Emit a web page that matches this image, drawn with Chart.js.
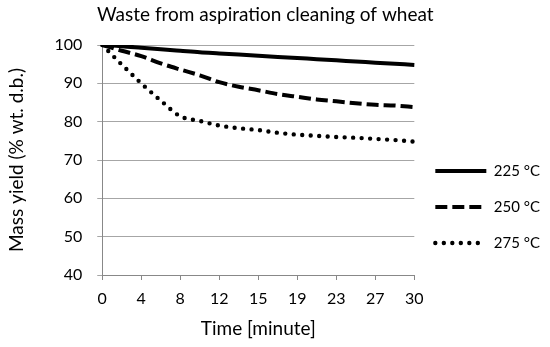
<!DOCTYPE html>
<html>
<head>
<meta charset="utf-8">
<script src="https://cdn.jsdelivr.net/npm/chart.js@4"></script>
<style>
  html, body { margin: 0; padding: 0; background: #fff; }
  #wrap { width: 550px; height: 347px; }
</style>
</head>
<body>
<div id="wrap"><canvas id="c" width="550" height="347"></canvas></div>
<script>
const timeLabels = ['0','2','4','6','8','10','12','13','15','17','19','21','23','25','27','28','30'];
const yield225 = [100, 99.7, 99.3, 98.9, 98.5, 98.1, 97.8, 97.5, 97.2, 96.9, 96.6, 96.3, 96.0, 95.7, 95.4, 95.1, 94.8];
const yield250 = [100, 98.5, 97.1, 95.2, 93.6, 92.1, 90.3, 89.1, 88.2, 87.2, 86.5, 85.8, 85.3, 84.8, 84.4, 84.2, 83.8];
const yield275 = [100, 94.9, 90.0, 85.5, 81.4, 80.2, 79.0, 78.3, 77.8, 77.1, 76.6, 76.3, 76.0, 75.8, 75.5, 75.2, 74.8];
const seriesNames = ['225 °C', '250 °C', '275 °C'];
const yTicks = [40, 50, 60, 70, 80, 90, 100];

const FONT = 'Lato, "Open Sans", sans-serif';

const bgPlugin = {
  id: 'bg',
  beforeDraw(chart) {
    const ctx = chart.ctx;
    ctx.save();
    ctx.fillStyle = '#fff';
    ctx.fillRect(0, 0, chart.width, chart.height);
    ctx.restore();
  }
};

new Chart(document.getElementById('c'), {
  type: 'line',
  data: {
    labels: timeLabels,
    datasets: [
      { label: seriesNames[0], data: yield225, borderColor: '#000', backgroundColor: '#000',
        borderWidth: 4, pointRadius: 0, cubicInterpolationMode: 'monotone', borderCapStyle: 'butt', borderDash: [] },
      { label: seriesNames[1], data: yield250, borderColor: '#000', backgroundColor: '#000',
        borderWidth: 4, pointRadius: 0, cubicInterpolationMode: 'monotone', borderDash: [12, 5], borderCapStyle: 'butt' },
      { label: seriesNames[2], data: yield275, borderColor: '#000', backgroundColor: '#000',
        borderWidth: 4.4, pointRadius: 0, cubicInterpolationMode: 'monotone', borderDash: [0, 8.5], borderCapStyle: 'round' }
    ]
  },
  options: {
    responsive: false,
    animation: false,
    devicePixelRatio: 1,
    layout: { padding: { left: 0, right: 0, top: 0, bottom: 0 } },
    plugins: {
      title: {
        display: true,
        text: 'Waste from aspiration cleaning of wheat\u00A0\u00A0\u00A0\u00A0',
        color: '#000',
        font: { family: FONT, size: 19, weight: 'normal' },
        padding: { top: 3.6, bottom: 18.6 }
      },
      legend: {
        position: 'right',
        align: 'center',
        title: { display: true, text: ' ', font: { size: 10 }, padding: { top: 55, bottom: 0 } },
        labels: {
          usePointStyle: true,
          pointStyle: 'line',
          pointStyleWidth: 51,
          padding: 21,
          color: '#000',
          font: { family: FONT, size: 15 },
          generateLabels(chart) {
            const items = Chart.defaults.plugins.legend.labels.generateLabels(chart);
            items.forEach((it) => {
              const ds = chart.data.datasets[it.datasetIndex];
              it.lineDash = ds.borderDash || [];
              it.lineCap = ds.borderCapStyle;
              it.lineWidth = ds.borderWidth;
              it.strokeStyle = ds.borderColor;
            });
            return items;
          }
        }
      },
      tooltip: { enabled: false }
    },
    scales: {
      x: {
        type: 'category',
        offset: false,
        grid: { drawOnChartArea: false, drawTicks: true, tickLength: 5, color: '#888' },
        border: { color: '#888', width: 1 },
        ticks: {
          autoSkip: false,
          maxRotation: 0,
          padding: 9,
          color: '#000',
          font: { family: FONT, size: 16 },
          callback: function(v, i) { return i % 2 === 0 ? timeLabels[i] : null; }
        },
        title: {
          display: true,
          text: 'Time [minute]',
          color: '#000',
          font: { family: FONT, size: 19 },
          padding: { top: 0, bottom: 7 }
        }
      },
      y: {
        min: yTicks[0],
        max: yTicks[yTicks.length - 1],
        grid: { color: '#a6a6a6', tickLength: 5, drawTicks: true },
        border: { color: '#888', width: 1 },
        afterBuildTicks: function(axis) { axis.ticks = yTicks.map(v => ({ value: v })); },
        ticks: {
          padding: 15,
          color: '#000',
          font: { family: FONT, size: 16 }
        },
        title: {
          display: true,
          text: 'Mass yield (% wt. d.b.)',
          color: '#000',
          font: { family: FONT, size: 19 },
          padding: { top: 5.6, bottom: 11 }
        }
      }
    }
  },
  plugins: [bgPlugin]
});
</script>
</body>
</html>
